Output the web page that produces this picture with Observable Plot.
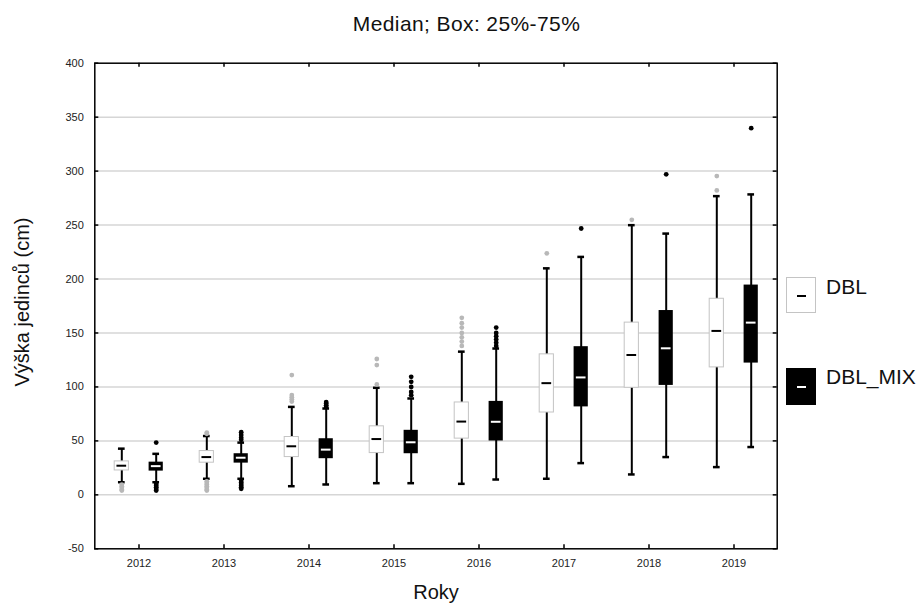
<!DOCTYPE html>
<html>
<head>
<meta charset="utf-8">
<script src="https://cdn.jsdelivr.net/npm/d3@7"></script>
<script src="https://cdn.jsdelivr.net/npm/@observablehq/plot@0.6"></script>
<style>
  html, body { margin: 0; padding: 0; background: #fff; }
  #wrap { position: relative; width: 923px; height: 606px; font-family: "Liberation Sans", Arial, sans-serif; color: #111; overflow: hidden; }
  #chart { position: absolute; left: 0; top: 0; }
  .title { position: absolute; left: 0; width: 923px; text-align: center; top: 13px; font-size: 21px; line-height: 21px; letter-spacing: 0.4px; padding-left: 10px; box-sizing: border-box; }
  .ylab { position: absolute; left: -128px; top: 290px; width: 300px; height: 24px; line-height: 24px; font-size: 20px; text-align: center; transform: rotate(-90deg); }
  .xlab { position: absolute; left: 336px; width: 200px; top: 580px; line-height: 24px; font-size: 20px; text-align: center; }
  .lgbox { position: absolute; left: 786px; width: 30px; box-sizing: border-box; }
  .lgdash { position: absolute; left: 10px; width: 9px; height: 2px; }
  .lgtext { position: absolute; left: 826px; font-size: 21px; line-height: 21px; }
</style>
</head>
<body>
<div id="wrap">
  <div id="chart"></div>
  <div class="title">Median; Box: 25%-75%</div>
  <div class="ylab">Výška jedinců (cm)</div>
  <div class="xlab">Roky</div>
  <div class="lgbox" style="top:277px;height:36px;border:1px solid #c4c4c4;background:#fff;"><div class="lgdash" style="top:17px;background:#000;"></div></div>
  <div class="lgtext" style="top:275.5px;">DBL</div>
  <div class="lgbox" style="top:368px;height:37px;background:#000;"><div class="lgdash" style="top:18px;left:11px;background:#fff;"></div></div>
  <div class="lgtext" style="top:365.5px;">DBL_MIX</div>
</div>
<script>
// ---- data ----
const years = ["2012", "2013", "2014", "2015", "2016", "2017", "2018", "2019"];
const groups = ["DBL", "DBL_MIX"];
const yTicks = [-50, 0, 50, 100, 150, 200, 250, 300, 350, 400];

// DBL
const dblMin = [11.7, 14.9, 8.0, 10.8, 10.2, 14.9, 18.9, 25.7];
const dblQ1  = [22.6, 29.8, 35.0, 38.7, 52.1, 76.3, 99.2, 118.1];
const dblMed = [27.0, 35.0, 45.0, 51.7, 67.9, 103.5, 129.6, 151.9];
const dblQ3  = [31.0, 40.6, 53.6, 63.5, 85.6, 130.2, 159.6, 181.7];
const dblMax = [42.8, 54.5, 81.5, 99.2, 132.7, 209.9, 249.9, 276.8];
const dblOutliers = [
  [4, 5, 6.5, 8, 9.5],
  [4, 5, 6.5, 8, 9.5, 11, 12.5, 56.5, 57.7],
  [86.5, 88.5, 90.5, 92.5, 111],
  [102.3, 120.3, 125.9],
  [138, 142, 146, 150, 155, 159, 164],
  [223.8],
  [254.9],
  [282.1, 295.4]
];

// DBL_MIX
const mixMin = [11.7, 14.9, 9.6, 10.8, 14.2, 29.4, 35.0, 44.3];
const mixQ1  = [22.0, 29.4, 33.5, 38.1, 49.9, 81.5, 101.4, 122.1];
const mixMed = [26.6, 34.4, 41.9, 48.7, 67.7, 108.8, 135.8, 159.6];
const mixQ3  = [30.3, 38.1, 52.0, 59.8, 86.6, 137.3, 170.8, 194.4];
const mixMax = [38.0, 48.4, 80.0, 89.3, 135.6, 220.5, 242.1, 278.4];
const mixOutliers = [
  [4, 5.5, 7, 8.5, 10, 48.4],
  [5.6, 7, 8.5, 10, 11.5, 13, 51, 53, 55.5, 58],
  [81.5, 83, 84.6, 86],
  [92.4, 95.4, 100, 104.7, 109.4],
  [138, 141, 144, 147, 150, 155],
  [246.8],
  [297],
  [339.8]
];

// ---- build tables ----
function boxRows(group, mins, q1s, meds, q3s, maxs) {
  return years.map((year, i) => ({year, group, min: mins[i], q1: q1s[i], med: meds[i], q3: q3s[i], max: maxs[i]}));
}
function outRows(group, outs) {
  return years.flatMap((year, i) => outs[i].map(v => ({year, group, value: v})));
}
const dblBoxes = boxRows("DBL", dblMin, dblQ1, dblMed, dblQ3, dblMax);
const mixBoxes = boxRows("DBL_MIX", mixMin, mixQ1, mixMed, mixQ3, mixMax);
const dblOut = outRows("DBL", dblOutliers);
const mixOut = outRows("DBL_MIX", mixOutliers);

// ---- layout ----
const W = 923, H = 606;
const mL = 94.3, mR = W - 776.7, mT = 62.7, mB = H - 548.3;
const plotW = W - mL - mR, plotH = H - mT - mB;
const bw = plotW / years.length;      // band width
const off = 17.2;                      // group offset from band centre
function ins(center, width) {          // insets for a segment centred at band centre + center
  const l = bw / 2 + center - width / 2;
  return {insetLeft: l, insetRight: bw - l - width};
}

function groupMarks(rows, outs, side, o) {
  const c = side * off;
  return [
    Plot.ruleX(rows, {x: "year", y1: "min", y2: "max", dx: c, stroke: "#000", strokeWidth: 2}),
    Plot.tickY(rows, {x: "year", y: "min", stroke: "#000", strokeWidth: 2.5, ...ins(c, 7)}),
    Plot.tickY(rows, {x: "year", y: "max", stroke: "#000", strokeWidth: 2.5, ...ins(c, 7)}),
    Plot.barY(rows, {x: "year", y1: "q1", y2: "q3", fill: o.fill, stroke: o.stroke, strokeWidth: 1, ...ins(c, 14.5)}),
    Plot.tickY(rows, {x: "year", y: "med", stroke: o.median, strokeWidth: 2, ...ins(c, 10)}),
    Plot.dot(outs, {x: "year", y: "value", dx: c, r: 2.4, fill: o.outlier, stroke: "none"})
  ];
}

const chart = Plot.plot({
  width: W,
  height: H,
  marginLeft: mL,
  marginRight: mR,
  marginTop: mT,
  marginBottom: mB,
  style: {fontFamily: "'Liberation Sans', Arial, sans-serif", fontSize: "11px", color: "#222", background: "#fff"},
  x: {type: "band", domain: years, padding: 0, label: null},
  y: {domain: [-50, 400], label: null},
  marks: [
    Plot.gridY(yTicks.filter(d => d > -50 && d < 400), {stroke: "#d6d6d6", strokeOpacity: 1, strokeWidth: 1.5}),
    Plot.axisY(yTicks, {tickSize: 0, tickPadding: 11, label: null, tickFormat: d => String(d)}),
    Plot.axisX({tickSize: 0, tickPadding: 10, label: null}),
    // inward tick marks on all four sides
    Plot.tickY(yTicks, {y: d => d, stroke: "#000", strokeWidth: 1.5, insetRight: plotW - 4}),
    Plot.tickY(yTicks, {y: d => d, stroke: "#000", strokeWidth: 1.5, insetLeft: plotW - 4}),
    Plot.tickX(years, {x: d => d, stroke: "#000", strokeWidth: 1.5, insetTop: plotH - 4}),
    Plot.tickX(years, {x: d => d, stroke: "#000", strokeWidth: 1.5, insetBottom: plotH - 4}),
    ...groupMarks(dblBoxes, dblOut, -1, {fill: "#fff", stroke: "#c4c4c4", median: "#000", outlier: "#b8b8b8"}),
    ...groupMarks(mixBoxes, mixOut, 1, {fill: "#000", stroke: "none", median: "#fff", outlier: "#000"}),
    Plot.frame({stroke: "#000", strokeWidth: 1.5})
  ]
});
document.getElementById("chart").appendChild(chart);
</script>
</body>
</html>
